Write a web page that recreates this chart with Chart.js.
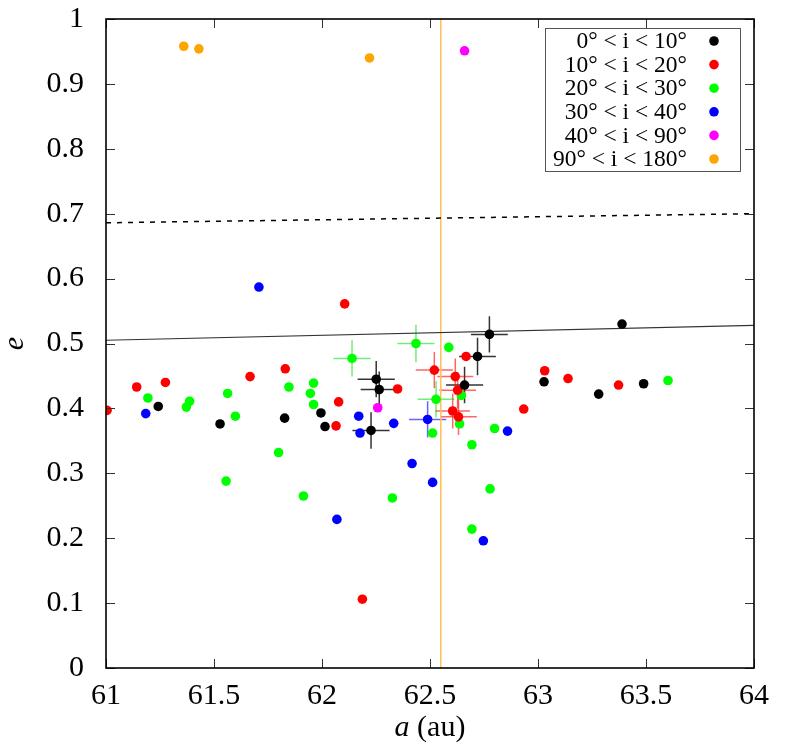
<!DOCTYPE html>
<html>
<head>
<meta charset="utf-8">
<script src="https://cdn.jsdelivr.net/npm/chart.js@4"></script>
<style>
  html, body { margin: 0; padding: 0; background: #ffffff; }
  #wrap { width: 789px; height: 747px; }
</style>
</head>
<body>
<div id="wrap"><canvas id="chart" width="789" height="747"></canvas></div>
<script>
// inclination classes
const categories = ["0° < i < 10°", "10° < i < 20°", "20° < i < 30°", "30° < i < 40°", "40° < i < 90°", "90° < i < 180°"];
const colors = ["#000000", "#ff0000", "#00ff00", "#0000ff", "#ff00ff", "#ffa500"];
const errColors = ["rgba(0,0,0,0.8)", "rgba(255,0,0,0.6)", "rgba(0,220,0,0.55)", "rgba(0,0,255,0.6)", "rgba(255,0,255,0.6)", "rgba(255,165,0,0.6)"];

// semi-major axis a (au), eccentricity e, and their errors (0 = none)
const blackA = [61.242, 61.528, 61.827, 61.995, 62.014, 62.227, 62.251, 62.265, 62.660, 62.720, 62.775, 63.028, 63.281, 63.389, 63.489];
const blackE = [0.403, 0.376, 0.385, 0.393, 0.372, 0.366, 0.445, 0.429, 0.436, 0.480, 0.514, 0.441, 0.422, 0.530, 0.438];
const blackDA = [0, 0, 0, 0, 0, 0.086, 0.086, 0.086, 0.086, 0.085, 0.085, 0, 0, 0, 0];
const blackDE = [0, 0, 0, 0, 0, 0.028, 0.028, 0.028, 0.028, 0.029, 0.028, 0, 0, 0, 0];

const redA = [61.005, 61.142, 61.275, 61.667, 61.830, 62.065, 62.077, 62.105, 62.187, 62.350, 62.520, 62.617, 62.628, 62.605, 62.632, 62.667, 62.934, 63.031, 63.139, 63.373];
const redE = [0.397, 0.433, 0.440, 0.449, 0.461, 0.373, 0.410, 0.561, 0.106, 0.430, 0.459, 0.449, 0.428, 0.396, 0.387, 0.480, 0.399, 0.458, 0.446, 0.436];
const redDA = [0, 0, 0, 0, 0, 0, 0, 0, 0, 0, 0.086, 0.083, 0.085, 0.080, 0.085, 0, 0, 0, 0, 0];
const redDE = [0, 0, 0, 0, 0, 0, 0, 0, 0, 0, 0.028, 0.028, 0.028, 0.027, 0.028, 0, 0, 0, 0, 0];

const greenA = [61.194, 61.372, 61.387, 61.556, 61.563, 61.599, 61.799, 61.847, 61.914, 61.946, 61.961, 61.961, 62.139, 62.326, 62.435, 62.512, 62.528, 62.587, 62.637, 62.645, 62.694, 62.694, 62.778, 62.799, 63.602];
const greenE = [0.416, 0.402, 0.411, 0.288, 0.423, 0.388, 0.332, 0.433, 0.265, 0.423, 0.439, 0.406, 0.477, 0.262, 0.500, 0.362, 0.414, 0.494, 0.376, 0.420, 0.344, 0.214, 0.276, 0.369, 0.443];
const greenDA = [0, 0, 0, 0, 0, 0, 0, 0, 0, 0, 0, 0, 0.086, 0, 0.086, 0, 0.085, 0, 0, 0, 0, 0, 0, 0, 0];
const greenDE = [0, 0, 0, 0, 0, 0, 0, 0, 0, 0, 0, 0, 0.028, 0, 0.029, 0, 0.028, 0, 0, 0, 0, 0, 0, 0, 0];

const blueA = [61.184, 61.708, 62.069, 62.170, 62.176, 62.332, 62.417, 62.489, 62.512, 62.747, 62.859];
const blueE = [0.392, 0.587, 0.229, 0.388, 0.362, 0.377, 0.315, 0.383, 0.286, 0.196, 0.365];
const blueDA = [0, 0, 0, 0, 0, 0, 0, 0.086, 0, 0, 0];
const blueDE = [0, 0, 0, 0, 0, 0, 0, 0.028, 0, 0, 0];

const magentaA = [62.258, 62.660];
const magentaE = [0.401, 0.951];

const orangeA = [61.360, 61.430, 62.220];
const orangeE = [0.958, 0.954, 0.940];

// reference curves
const curveA = [61, 64];
const solidE = [0.505, 0.528];
const dashedE = [0.686, 0.700];
const resonanceA = [62.55, 62.55];
const resonanceE = [0, 1];

const xTicks = [61, 61.5, 62, 62.5, 63, 63.5, 64];
const yTicks = [0, 0.1, 0.2, 0.3, 0.4, 0.5, 0.6, 0.7, 0.8, 0.9, 1];

const serif = "'Liberation Serif', 'DejaVu Serif', serif";

const toPoints = (xs, ys) => xs.map((x, i) => ({ x, y: ys[i] }));

const groups = [
    [blackA, blackE, blackDA, blackDE],
    [redA, redE, redDA, redDE],
    [greenA, greenE, greenDA, greenDE],
    [blueA, blueE, blueDA, blueDE],
    [magentaA, magentaE, null, null],
    [orangeA, orangeE, null, null],
];

const pointSets = groups.map(([xs, ys, dx, dy], k) => ({
    label: categories[k],
    data: toPoints(xs, ys),
    errA: dx,
    errE: dy,
    errColor: errColors[k],
    backgroundColor: colors[k],
    borderWidth: 0,
    pointRadius: 4.8,
    pointHoverRadius: 4.8,
    order: 0,
}));

const lineSets = [
    { data: toPoints(curveA, solidE), borderColor: "#333333", borderWidth: 1.2 },
    { data: toPoints(curveA, dashedE), borderColor: "#000000", borderWidth: 1.5, borderDash: [5, 6] },
    { data: toPoints(resonanceA, resonanceE), borderColor: "#ffbf55", borderWidth: 1.5 },
].map((d) => ({ ...d, showLine: true, pointRadius: 0, fill: false, order: 1 }));

const errorBars = {
    id: "errorBars",
    beforeDatasetsDraw: (chart) => {
        const { ctx, scales } = chart;
        ctx.save();
        ctx.lineWidth = 1.5;
        chart.data.datasets.forEach((ds) => {
            if (!ds.errA) return;
            ctx.strokeStyle = ds.errColor;
            ds.data.forEach((p, i) => {
                const dx = ds.errA[i], dy = ds.errE[i];
                if (!dx && !dy) return;
                const px = scales.x.getPixelForValue(p.x);
                const py = scales.y.getPixelForValue(p.y);
                ctx.beginPath();
                ctx.moveTo(scales.x.getPixelForValue(p.x - dx), py);
                ctx.lineTo(scales.x.getPixelForValue(p.x + dx), py);
                ctx.moveTo(px, scales.y.getPixelForValue(p.y - dy));
                ctx.lineTo(px, scales.y.getPixelForValue(p.y + dy));
                ctx.stroke();
            });
        });
        ctx.restore();
    },
};

const frameAndKey = {
    id: "frameAndKey",
    afterDraw: (chart) => {
        const { ctx, chartArea: area, scales } = chart;
        ctx.save();

        // inward ticks on all four sides
        const len = 9;
        ctx.strokeStyle = "#333333";
        ctx.lineWidth = 1;
        ctx.beginPath();
        xTicks.forEach((v) => {
            const px = Math.round(scales.x.getPixelForValue(v)) + 0.5;
            ctx.moveTo(px, area.bottom); ctx.lineTo(px, area.bottom - len);
            ctx.moveTo(px, area.top); ctx.lineTo(px, area.top + len);
        });
        yTicks.forEach((v) => {
            const py = Math.round(scales.y.getPixelForValue(v)) + 0.5;
            ctx.moveTo(area.left, py); ctx.lineTo(area.left + len, py);
            ctx.moveTo(area.right, py); ctx.lineTo(area.right - len, py);
        });
        ctx.stroke();

        // frame
        ctx.strokeStyle = "#000000";
        ctx.lineWidth = 1.6;
        ctx.strokeRect(area.left, area.top, area.right - area.left, area.bottom - area.top);

        // key
        const boxR = area.right - 14, boxT = area.top + 9;
        const boxW = 195, boxH = 143;
        ctx.fillStyle = "#ffffff";
        ctx.fillRect(boxR - boxW, boxT, boxW, boxH);
        ctx.strokeStyle = "#555555";
        ctx.lineWidth = 1;
        ctx.strokeRect(boxR - boxW + 0.5, boxT + 0.5, boxW, boxH);
        ctx.font = "23.5px " + serif;
        ctx.textAlign = "right";
        ctx.textBaseline = "middle";
        categories.forEach((label, k) => {
            const cy = boxT + 13 + k * 23.6;
            ctx.fillStyle = "#000000";
            ctx.fillText(label, boxR - 53, cy + 1);
            ctx.fillStyle = colors[k];
            ctx.beginPath();
            ctx.arc(boxR - 26, cy, 4.8, 0, Math.PI * 2);
            ctx.fill();
        });

        // axis titles
        ctx.fillStyle = "#000000";
        ctx.textBaseline = "alphabetic";
        ctx.textAlign = "left";
        const italic = "italic 30px " + serif;
        const upright = "30px " + serif;
        ctx.font = italic;
        const wA = ctx.measureText("a").width;
        ctx.font = upright;
        const wRest = ctx.measureText(" (au)").width;
        const cx = (area.left + area.right) / 2;
        let x0 = cx - (wA + wRest) / 2;
        ctx.font = italic;
        ctx.fillText("a", x0, 736);
        ctx.font = upright;
        ctx.fillText(" (au)", x0 + wA, 736);

        ctx.translate(23, (area.top + area.bottom) / 2);
        ctx.rotate(-Math.PI / 2);
        ctx.textAlign = "center";
        ctx.font = italic;
        ctx.fillText("e", 0, 0);
        ctx.restore();
    },
};

new Chart(document.getElementById("chart").getContext("2d"), {
    type: "scatter",
    data: { datasets: [...pointSets, ...lineSets] },
    options: {
        responsive: false,
        animation: false,
        devicePixelRatio: 1,
        layout: { padding: { top: 19, right: 35, left: 0, bottom: 0 } },
        plugins: { legend: { display: false }, tooltip: { enabled: false } },
        scales: {
            x: {
                type: "linear",
                min: 61,
                max: 64,
                afterBuildTicks: (scale) => { scale.ticks = xTicks.map((value) => ({ value })); },
                afterFit: (scale) => { scale.height = 79; scale.paddingLeft = 0; scale.paddingRight = 0; },
                grid: { display: false },
                border: { display: false },
                ticks: { color: "#000000", font: { family: serif, size: 30 }, padding: 2, maxRotation: 0, callback: (v) => String(v) },
            },
            y: {
                type: "linear",
                min: 0,
                max: 1,
                afterBuildTicks: (scale) => { scale.ticks = yTicks.map((value) => ({ value })); },
                afterFit: (scale) => { scale.width = 106; scale.paddingTop = 0; scale.paddingBottom = 0; },
                grid: { display: false },
                border: { display: false },
                ticks: { color: "#000000", font: { family: serif, size: 30 }, padding: 14, callback: (v) => String(v) },
            },
        },
    },
    plugins: [errorBars, frameAndKey],
});
</script>
</body>
</html>
